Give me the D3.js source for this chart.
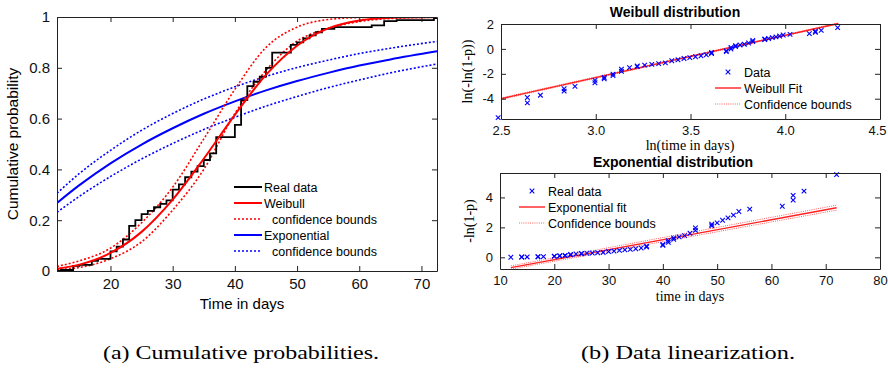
<!DOCTYPE html>
<html>
<head>
<meta charset="utf-8">
<script src="https://cdn.jsdelivr.net/npm/d3@7"></script>
<style>
  body { margin: 0; background: #fff; }
  svg { display: block; font-family: "Liberation Sans", Arial, sans-serif; }
  .serif { font-family: "Liberation Serif", "DejaVu Serif", serif; }
</style>
</head>
<body>
<svg width="888" height="372"></svg>
<script>
// observed failure times (days) and their cumulative probability
const obsDays = [12, 14, 14, 15, 17, 17, 18, 20, 20, 21, 21, 22, 22, 23, 23, 24, 25, 25, 26, 27, 28, 29,
  30, 31, 32, 33, 34, 35, 36, 37, 37, 40, 40, 41, 41, 42, 42, 43, 44, 45, 46, 46, 49, 49, 50, 51, 52,
  53, 54, 56, 62, 64, 64, 66, 72];
const obsProb = [0.004, 0.013, 0.020, 0.024, 0.033, 0.040, 0.048, 0.064, 0.077, 0.087, 0.096, 0.110, 0.124,
  0.152, 0.178, 0.200, 0.214, 0.224, 0.237, 0.251, 0.264, 0.278, 0.320, 0.341, 0.369, 0.391, 0.413, 0.437,
  0.463, 0.500, 0.527, 0.552, 0.575, 0.630, 0.673, 0.700, 0.728, 0.745, 0.765, 0.800, 0.835, 0.860, 0.878,
  0.890, 0.900, 0.916, 0.928, 0.940, 0.953, 0.960, 0.967, 0.978, 0.984, 0.988, 0.996];

// fitted cumulative curves, read at these days
const curveDays = [11.4, 15, 20, 25, 30, 35, 40, 45, 50, 55, 60, 65, 72.5];
const weibullCdf = [0.009, 0.025, 0.071, 0.154, 0.281, 0.442, 0.615, 0.772, 0.887, 0.955, 0.986, 0.997, 1.0];
const weibullUpper = [0.018, 0.040, 0.090, 0.190, 0.330, 0.520, 0.715, 0.880, 0.960, 0.990, 0.998, 1.0, 1.0];
const weibullLower = [0.005, 0.014, 0.048, 0.115, 0.240, 0.400, 0.620, 0.790, 0.905, 0.955, 0.982, 0.994, 0.999];
const expCdf = [0.268, 0.338, 0.424, 0.498, 0.562, 0.619, 0.668, 0.711, 0.748, 0.780, 0.809, 0.833, 0.865];
const expUpper = [0.306, 0.384, 0.475, 0.554, 0.620, 0.677, 0.725, 0.766, 0.801, 0.830, 0.856, 0.877, 0.904];
const expLower = [0.231, 0.294, 0.372, 0.441, 0.502, 0.557, 0.605, 0.649, 0.687, 0.722, 0.752, 0.780, 0.815];

// linearized fits (end points)
const weibFitLnT = [2.5, 4.28];
const weibFit = [-4.0, 2.04];
const weibFitUp = [-3.94, 2.08];
const weibFitLo = [-4.06, 2.0];
const expFitDays = [12, 72];
const expFit = [-0.69, 3.31];
const expFitUp = [-0.57, 3.48];
const expFitLo = [-0.79, 3.15];

const leftXTicks = [20, 30, 40, 50, 60, 70];
const leftYTicks = [0, 0.2, 0.4, 0.6, 0.8, 1];
const weibXTicks = [2.5, 3, 3.5, 4, 4.5];
const weibYTicks = [-4, -2, 0, 2];
const expXTicks = [10, 20, 30, 40, 50, 60, 70, 80];
const expYTicks = [0, 2, 4];

const svg = d3.select('svg');
const RED = '#ff0000', BLUE = '#0000ff';

function frame(g, x, y, xt, yt, fs, fmtY) {
  const w = x.range()[1] - x.range()[0];
  const h = y.range()[0] - y.range()[1];
  const ax = [
    g.append('g').attr('transform', `translate(0,${h})`)
      .call(d3.axisBottom(x).tickValues(xt).tickSizeInner(-5).tickSizeOuter(0).tickPadding(7)),
    g.append('g')
      .call(d3.axisLeft(y).tickValues(yt).tickFormat(fmtY || null).tickSizeInner(-5).tickSizeOuter(0).tickPadding(7)),
    g.append('g')
      .call(d3.axisTop(x).tickValues(xt).tickFormat('').tickSizeInner(-5).tickSizeOuter(0)),
    g.append('g').attr('transform', `translate(${w},0)`)
      .call(d3.axisRight(y).tickValues(yt).tickFormat('').tickSizeInner(-5).tickSizeOuter(0))
  ];
  ax.forEach(a => {
    a.selectAll('path,line').attr('stroke', '#222').attr('stroke-width', 1);
    a.selectAll('text').attr('font-size', fs).attr('fill', '#111')
      .attr('font-family', '"Liberation Sans", Arial, sans-serif');
  });
}

// ---------- (a) cumulative probabilities ----------
const A = { left: 57, top: 17, right: 437, bottom: 271 };
const xa = d3.scaleLinear().domain([11.4, 72.5]).range([0, A.right - A.left]);
const ya = d3.scaleLinear().domain([0, 1]).range([A.bottom - A.top, 0]);
const ga = svg.append('g').attr('transform', `translate(${A.left},${A.top})`);
ga.append('clipPath').attr('id', 'clipA').append('rect')
  .attr('width', A.right - A.left).attr('height', A.bottom - A.top);
const plotA = ga.append('g').attr('clip-path', 'url(#clipA)');

const lineA = d3.line().x(d => xa(d[0])).y(d => ya(d[1])).curve(d3.curveMonotoneX);
const curves = [
  { v: expUpper, c: BLUE, dash: '2,2', w: 1.6 },
  { v: expLower, c: BLUE, dash: '2,2', w: 1.6 },
  { v: expCdf, c: BLUE, dash: null, w: 2 },
  { v: weibullUpper, c: RED, dash: '2,2', w: 1.6 },
  { v: weibullLower, c: RED, dash: '2,2', w: 1.6 }
];
curves.forEach(s => {
  plotA.append('path').datum(curveDays.map((t, i) => [t, s.v[i]]))
    .attr('d', lineA).attr('fill', 'none').attr('stroke', s.c)
    .attr('stroke-width', s.w).attr('stroke-dasharray', s.dash);
});
const stepPts = [[11.4, 0]].concat(obsDays.map((t, i) => [t, obsProb[i]]), [[72.5, obsProb[obsProb.length - 1]]]);
plotA.append('path').datum(stepPts)
  .attr('d', d3.line().x(d => xa(d[0])).y(d => ya(d[1])).curve(d3.curveStepAfter))
  .attr('fill', 'none').attr('stroke', '#000').attr('stroke-width', 1.8);
plotA.append('path').datum(curveDays.map((t, i) => [t, weibullCdf[i]]))
  .attr('d', lineA).attr('fill', 'none').attr('stroke', RED).attr('stroke-width', 2);

frame(ga, xa, ya, leftXTicks, leftYTicks, 15, d3.format('~g'));

ga.append('text').attr('x', (A.right - A.left) / 2 - 5).attr('y', 292).attr('text-anchor', 'middle')
  .attr('font-size', 15).text('Time in days');
ga.append('text').attr('transform', `translate(-39,${(A.bottom - A.top) / 2}) rotate(-90)`)
  .attr('text-anchor', 'middle').attr('font-size', 15.5).text('Cumulative probability');

const legA = [
  { t: 'Real data', c: '#000', dash: null, ind: 0 },
  { t: 'Weibull', c: RED, dash: null, ind: 0 },
  { t: 'confidence bounds', c: RED, dash: '2,2', ind: 8 },
  { t: 'Exponential', c: BLUE, dash: null, ind: 0 },
  { t: 'confidence bounds', c: BLUE, dash: '2,2', ind: 8 }
];
legA.forEach((d, i) => {
  const yy = 187 + i * 16;
  svg.append('line').attr('x1', 234).attr('x2', 262).attr('y1', yy).attr('y2', yy)
    .attr('stroke', d.c).attr('stroke-width', d.dash ? 1.6 : 2).attr('stroke-dasharray', d.dash);
  svg.append('text').attr('x', 264 + d.ind).attr('y', yy + 4.5).attr('font-size', 12.5).text(d.t);
});

// ---------- (b) Weibull linearization ----------
const B = { left: 501, top: 24, right: 880, bottom: 119 };
const xb = d3.scaleLinear().domain([2.5, 4.5]).range([0, B.right - B.left]);
const yb = d3.scaleLinear().domain([-5.63, 2]).range([B.bottom - B.top, 0]);
const gb = svg.append('g').attr('transform', `translate(${B.left},${B.top})`);

const cross = (g, px, py, r, c) => {
  g.append('path').attr('d', `M${px - r},${py - r}L${px + r},${py + r}M${px - r},${py + r}L${px + r},${py - r}`)
    .attr('stroke', c).attr('stroke-width', 1.1);
};
[[weibFitUp, '1,1.2', 1], [weibFitLo, '1,1.2', 1], [weibFit, null, 1.4]].forEach(([v, dash, w]) => {
  gb.append('line').attr('x1', xb(weibFitLnT[0])).attr('x2', xb(weibFitLnT[1]))
    .attr('y1', yb(v[0])).attr('y2', yb(v[1]))
    .attr('stroke', dash ? '#ff6060' : '#ff2020').attr('stroke-width', w).attr('stroke-dasharray', dash);
});
obsDays.forEach((t, i) => {
  cross(gb, xb(Math.log(t)), yb(Math.log(-Math.log(1 - obsProb[i]))), 2.3, BLUE);
});
frame(gb, xb, yb, weibXTicks, weibYTicks, 13, d3.format('~g'));
gb.selectAll('.tick text').filter(d => d === 4.5).attr('dx', -3);

svg.append('text').attr('x', 675).attr('y', 17).attr('text-anchor', 'middle')
  .attr('font-size', 14).attr('font-weight', 'bold').text('Weibull distribution');
svg.append('text').attr('class', 'serif').attr('x', 690).attr('y', 150).attr('text-anchor', 'middle')
  .attr('font-size', 14).text('ln(time in days)');
svg.append('text').attr('class', 'serif').attr('transform', `translate(472,${(B.top + B.bottom) / 2}) rotate(-90)`)
  .attr('text-anchor', 'middle').attr('font-size', 14).text('ln(-ln(1-p))');

const legB = [
  { t: 'Data', kind: 'x' },
  { t: 'Weibull Fit', kind: 'line' },
  { t: 'Confidence bounds', kind: 'dot' }
];
legB.forEach((d, i) => {
  const yy = 72 + i * 16;
  if (d.kind === 'x') cross(svg, 728, yy, 2.3, BLUE);
  else svg.append('line').attr('x1', 715).attr('x2', 741).attr('y1', yy).attr('y2', yy)
    .attr('stroke', d.kind === 'dot' ? '#ff6060' : '#ff2020').attr('stroke-width', d.kind === 'dot' ? 1 : 1.4)
    .attr('stroke-dasharray', d.kind === 'dot' ? '1,1.2' : null);
  svg.append('text').attr('x', 744).attr('y', yy + 4.5).attr('font-size', 12.5).text(d.t);
});

// ---------- (b) exponential linearization ----------
const C = { left: 500, top: 173, right: 880, bottom: 269 };
const xc = d3.scaleLinear().domain([10, 80]).range([0, C.right - C.left]);
const yc = d3.scaleLinear().domain([-0.78, 5.63]).range([C.bottom - C.top, 0]);
const gc = svg.append('g').attr('transform', `translate(${C.left},${C.top})`);
[[expFitUp, '1,1.2', 1], [expFitLo, '1,1.2', 1], [expFit, null, 1.4]].forEach(([v, dash, w]) => {
  gc.append('line').attr('x1', xc(expFitDays[0])).attr('x2', xc(expFitDays[1]))
    .attr('y1', yc(v[0])).attr('y2', yc(v[1]))
    .attr('stroke', dash ? '#ff6060' : '#ff2020').attr('stroke-width', w).attr('stroke-dasharray', dash);
});
obsDays.forEach((t, i) => {
  cross(gc, xc(t), yc(-Math.log(1 - obsProb[i])), 2.3, BLUE);
});
frame(gc, xc, yc, expXTicks, expYTicks, 13, d3.format('~g'));

svg.append('text').attr('x', 673).attr('y', 167).attr('text-anchor', 'middle')
  .attr('font-size', 14).attr('font-weight', 'bold').text('Exponential distribution');
svg.append('text').attr('class', 'serif').attr('x', 690).attr('y', 301).attr('text-anchor', 'middle')
  .attr('font-size', 14).text('time in days');
svg.append('text').attr('class', 'serif').attr('transform', `translate(474,${(C.top + C.bottom) / 2}) rotate(-90)`)
  .attr('text-anchor', 'middle').attr('font-size', 14).text('-ln(1-p)');

const legC = [
  { t: 'Real data', kind: 'x' },
  { t: 'Exponential fit', kind: 'line' },
  { t: 'Confidence bounds', kind: 'dot' }
];
legC.forEach((d, i) => {
  const yy = 191 + i * 16;
  if (d.kind === 'x') cross(svg, 532, yy, 2.3, BLUE);
  else svg.append('line').attr('x1', 519).attr('x2', 545).attr('y1', yy).attr('y2', yy)
    .attr('stroke', d.kind === 'dot' ? '#ff6060' : '#ff2020').attr('stroke-width', d.kind === 'dot' ? 1 : 1.4)
    .attr('stroke-dasharray', d.kind === 'dot' ? '1,1.2' : null);
  svg.append('text').attr('x', 548).attr('y', yy + 4.5).attr('font-size', 12.5).text(d.t);
});

// captions
svg.append('text').attr('class', 'serif').attr('x', 103).attr('y', 359).attr('font-size', 19)
  .attr('textLength', 276).attr('lengthAdjust', 'spacingAndGlyphs').text('(a) Cumulative probabilities.');
svg.append('text').attr('class', 'serif').attr('x', 581).attr('y', 359).attr('font-size', 19)
  .attr('textLength', 214).attr('lengthAdjust', 'spacingAndGlyphs').text('(b) Data linearization.');

// use hyphen-minus on negative tick labels like the original
svg.selectAll('.tick text').each(function () {
  this.textContent = this.textContent.replace('−', '-');
});
</script>
</body>
</html>
